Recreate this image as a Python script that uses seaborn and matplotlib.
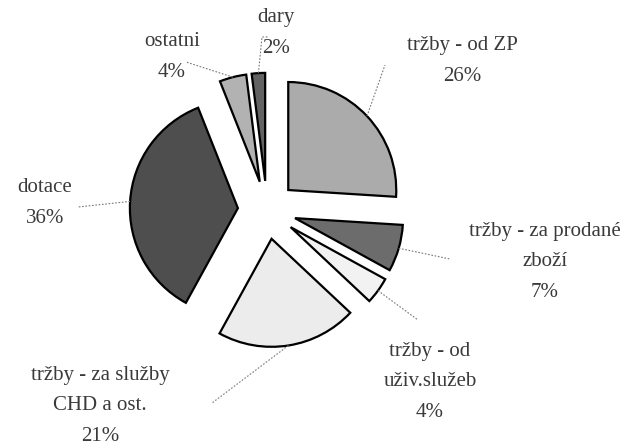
import numpy as np
import matplotlib
matplotlib.use("Agg")
import matplotlib.pyplot as plt
import seaborn as sns

# data
labels = ["tržby - od ZP", "tržby - za prodané\nzboží", "tržby - od\nuživ.služeb",
          "tržby - za služby\nCHD a ost.", "dotace", "ostatni", "dary"]
shares = [26, 7, 4, 21, 36, 4, 2]
colors = ["#ababab", "#6c6c6c", "#f2f2f2", "#ececec", "#4e4e4e", "#b2b2b2", "#626262"]

# layout (pixel positions in the 633x445 picture)
W, H = 633, 445
CX, CY, R = 267, 210, 108
label_pos = [(462, 61), (545, 262), (430, 382), (100, 406), (45, 203), (172, 57), (276, 33)]
line_end = [(385, 65), (450, 259), (418, 320), (212, 403), (78, 207), (186, 62), (262, 37)]


def px(x, y):
    return (x - CX) / R, (CY - y) / R


sns.set_theme(style="white")
plt.rcParams['font.family'] = ['Liberation Serif', 'DejaVu Serif']

fig = plt.figure(figsize=(W / 100, H / 100), dpi=100)
ax = fig.add_axes([0, 0, 1, 1])

wedges, _ = ax.pie(shares, colors=colors, startangle=90, counterclock=False,
                   explode=[0.27] * len(shares), radius=1,
                   wedgeprops=dict(edgecolor="black", linewidth=1.6))

for i, w in enumerate(wedges):
    mid = np.deg2rad((w.theta1 + w.theta2) / 2)
    x0 = w.center[0] + w.r * np.cos(mid)
    y0 = w.center[1] + w.r * np.sin(mid)
    ex, ey = px(*line_end[i])
    xs, ys = [x0, ex], [y0, ey]
    if labels[i] == "dary":
        hx, hy = px(268, 37)
        xs.append(hx)
        ys.append(hy)
    ax.plot(xs, ys, color="#777777", lw=0.8, ls=(0, (1.5, 1.5)))
    tx, ty = px(*label_pos[i])
    ax.text(tx, ty, f"{labels[i]}\n{shares[i]}%", ha="center", va="center",
            fontsize=15, color="#3a3a3a", linespacing=1.85)

ax.set_xlim(-CX / R, (W - CX) / R)
ax.set_ylim(-(H - CY) / R, CY / R)
ax.set_aspect("equal")
ax.axis("off")

fig.savefig("out.png", dpi=100, facecolor="white")
